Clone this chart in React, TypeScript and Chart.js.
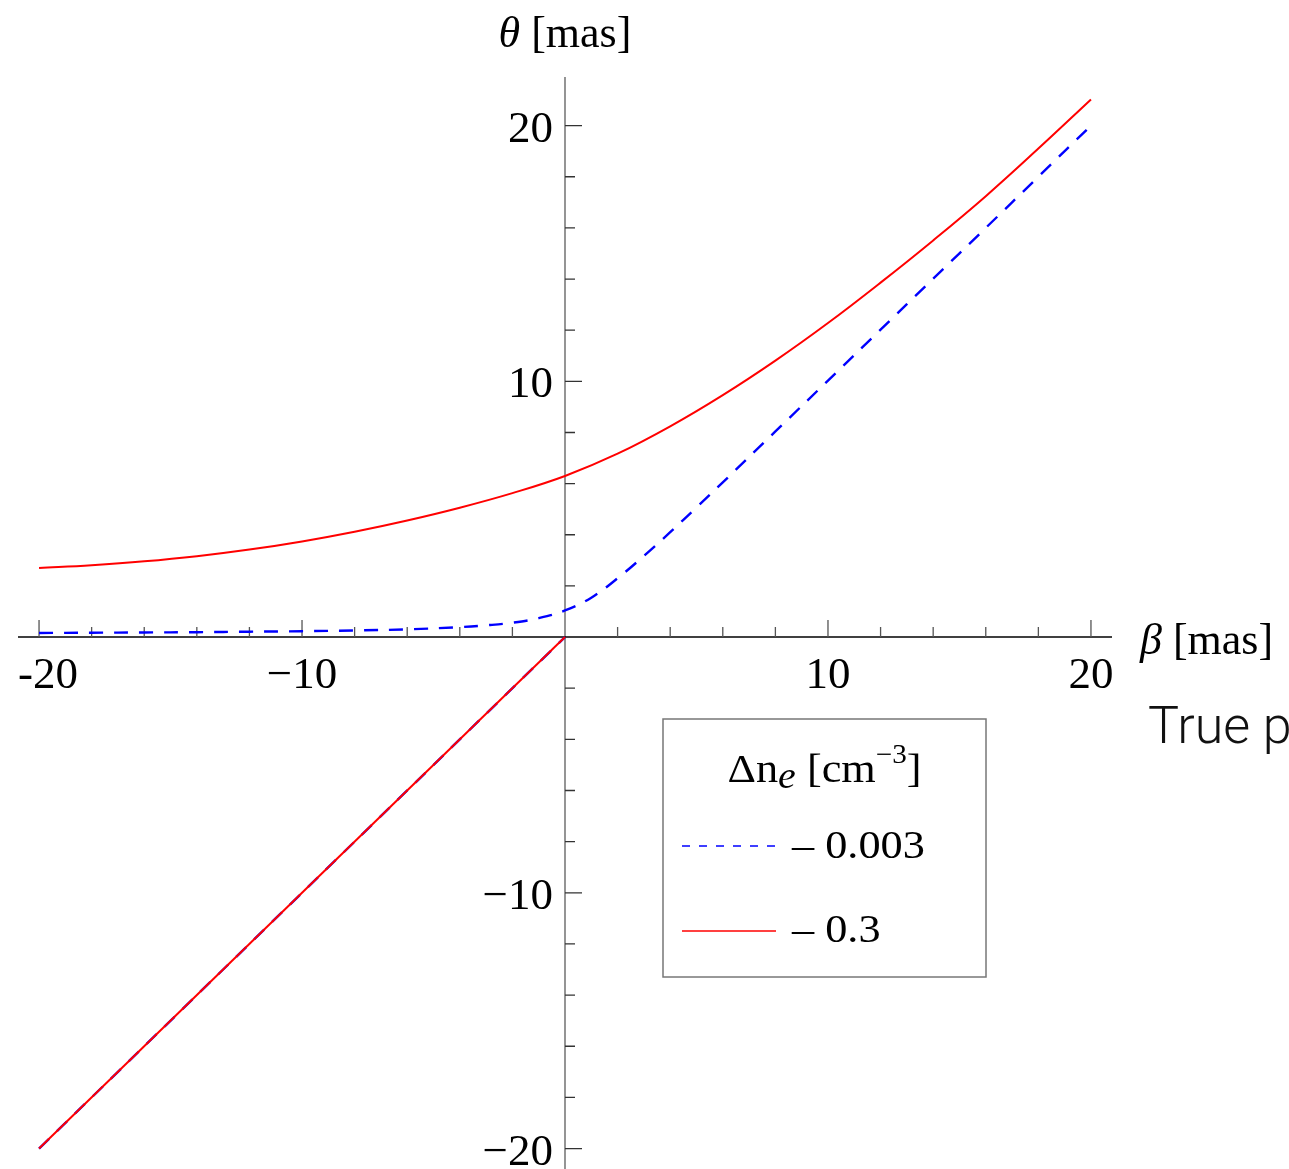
import { useEffect, useRef } from "react";
import { Chart, registerables } from "chart.js";

Chart.register(...registerables);

const W = 1289;
const H = 1169;

// Image position θ against true position β (both in mas)
const betaStrong = [-20, -18, -16, -14, -12, -10, -8, -6, -4, -2, 0, 2, 4, 6, 8, 10, 12, 14, 16, 18, 20];
const thetaStrong = [2.7, 2.81, 2.96, 3.16, 3.42, 3.74, 4.12, 4.56, 5.06, 5.63, 6.3, 7.17, 8.24, 9.46, 10.81, 12.28, 13.86, 15.51, 17.24, 19.1, 21.02];

const betaWeak = [-20, -18, -16, -14, -12, -10, -8, -6, -4, -3, -2, -1, 0, 1, 2, 3, 4, 5, 6, 8, 10, 12, 14, 16, 18, 20];
const thetaWeak = [0.16, 0.17, 0.18, 0.19, 0.21, 0.23, 0.26, 0.3, 0.39, 0.46, 0.56, 0.74, 1.04, 1.54, 2.3, 3.17, 4.1, 5.07, 6.05, 8.04, 10.03, 12.02, 14.01, 16.0, 18.0, 20.0];

// second image branch (identical for both densities)
const betaLower = [-20, 0];
const thetaLower = [-20, 0];

const seriesNames = ["– 0.003", "– 0.3"];
const legendTitle = "Δn_e [cm^-3]";

const xMajorTicks = [-20, -10, 10, 20];
const xMajorLabels = ["-20", "−10", "10", "20"];
const xMinorTicks = [-18, -16, -14, -12, -8, -6, -4, -2, 2, 4, 6, 8, 12, 14, 16, 18];
const yMajorTicks = [20, 10, -10, -20];
const yMajorLabels = ["20", "10", "−10", "−20"];
const yMinorTicks = [18, 16, 14, 12, 8, 6, 4, 2, -2, -4, -6, -8, -12, -14, -16, -18];

const RED = "#ff0000";
const BLUE = "#0000ff";
const SERIF = '"Liberation Serif", "Times New Roman", serif';

const pts = (xs: number[], ys: number[]) => xs.map((v, i) => ({ x: v, y: ys[i] }));

const axesPlugin = {
  id: "crossAxes",
  beforeDatasetsDraw(chart: any) {
    const { ctx, scales } = chart;
    const xs = scales.x;
    const ys = scales.y;
    const x0 = xs.getPixelForValue(0);
    const y0 = ys.getPixelForValue(0);
    ctx.save();
    // vertical axis
    ctx.strokeStyle = "#7a7a7a";
    ctx.lineWidth = 1.6;
    ctx.beginPath();
    ctx.moveTo(x0, ys.top);
    ctx.lineTo(x0, ys.bottom);
    ctx.stroke();
    // horizontal axis
    ctx.strokeStyle = "#000";
    ctx.lineWidth = 1.4;
    ctx.beginPath();
    ctx.moveTo(xs.left, y0);
    ctx.lineTo(xs.right, y0);
    ctx.stroke();

    // tick marks point into the upper / right side
    ctx.strokeStyle = "#555";
    ctx.lineWidth = 1.3;
    ctx.beginPath();
    xMajorTicks.forEach((v) => {
      const p = xs.getPixelForValue(v);
      ctx.moveTo(p, y0);
      ctx.lineTo(p, y0 - 17);
    });
    xMinorTicks.forEach((v) => {
      const p = xs.getPixelForValue(v);
      ctx.moveTo(p, y0);
      ctx.lineTo(p, y0 - 10);
    });
    ctx.stroke();
    ctx.strokeStyle = "#333";
    ctx.beginPath();
    yMajorTicks.forEach((v) => {
      const p = ys.getPixelForValue(v);
      ctx.moveTo(x0, p);
      ctx.lineTo(x0 + 17, p);
    });
    yMinorTicks.forEach((v) => {
      const p = ys.getPixelForValue(v);
      ctx.moveTo(x0, p);
      ctx.lineTo(x0 + 10, p);
    });
    ctx.stroke();
    ctx.restore();
  },
  afterDraw(chart: any) {
    const { ctx, scales } = chart;
    const xs = scales.x;
    const ys = scales.y;
    const x0 = xs.getPixelForValue(0);
    const y0 = ys.getPixelForValue(0);
    ctx.save();
    ctx.fillStyle = "#000";
    ctx.textBaseline = "alphabetic";

    // tick labels
    ctx.font = `45px ${SERIF}`;
    ctx.textAlign = "left";
    xMajorTicks.forEach((v, i) => {
      const p = xs.getPixelForValue(v);
      const w = ctx.measureText(xMajorLabels[i]).width;
      const left = Math.max(p - w / 2, xs.left);
      ctx.fillText(xMajorLabels[i], left, y0 + 51);
    });
    ctx.textAlign = "right";
    yMajorTicks.forEach((v, i) => {
      const p = ys.getPixelForValue(v);
      ctx.fillText(yMajorLabels[i], x0 - 12, p + 16);
    });

    // axis titles
    const drawRuns = (runs: [string, string][], x: number, y: number, center: boolean) => {
      let total = 0;
      runs.forEach(([t, f]) => {
        ctx.font = f;
        total += ctx.measureText(t).width;
      });
      let cx = center ? x - total / 2 : x;
      ctx.textAlign = "left";
      runs.forEach(([t, f]) => {
        ctx.font = f;
        ctx.fillText(t, cx, y);
        cx += ctx.measureText(t).width;
      });
    };
    drawRuns(
      [
        ["θ", `italic 44px ${SERIF}`],
        [" [mas]", `44px ${SERIF}`],
      ],
      x0,
      47,
      true
    );
    drawRuns(
      [
        ["β", `italic 44px ${SERIF}`],
        [" [mas]", `44px ${SERIF}`],
      ],
      xs.right + 28,
      654,
      false
    );

    // legend
    const bx = 663;
    const by = 719;
    const bw = 323;
    const bh = 258;
    ctx.fillStyle = "#fff";
    ctx.fillRect(bx, by, bw, bh);
    ctx.strokeStyle = "#777";
    ctx.lineWidth = 1.5;
    ctx.strokeRect(bx, by, bw, bh);

    const stretch = 1.08;
    const fs = 41;
    ctx.fillStyle = "#000";
    // title: Δn_e [cm^-3]
    const [main, rest] = legendTitle.split("_");
    const sub = rest.charAt(0);
    const afterSub = rest.slice(1).split("^");
    const parts: { t: string; f: string; dy: number }[] = [
      { t: main, f: `${fs}px ${SERIF}`, dy: 0 },
      { t: sub, f: `italic ${Math.round(fs * 0.9)}px ${SERIF}`, dy: 6 },
      { t: afterSub[0], f: `${fs}px ${SERIF}`, dy: 0 },
      { t: "−" + afterSub[1].replace("-", "").replace("]", ""), f: `${Math.round(fs * 0.66)}px ${SERIF}`, dy: -19 },
      { t: "]", f: `${fs}px ${SERIF}`, dy: 0 },
    ];
    let tw = 0;
    parts.forEach((p) => {
      ctx.font = p.f;
      tw += ctx.measureText(p.t).width;
    });
    ctx.save();
    ctx.translate(bx + bw / 2 - (tw * stretch) / 2, 782);
    ctx.scale(stretch, 1);
    let cx = 0;
    ctx.textAlign = "left";
    parts.forEach((p) => {
      ctx.font = p.f;
      ctx.fillText(p.t, cx, p.dy);
      cx += ctx.measureText(p.t).width;
    });
    ctx.restore();

    const entries = [
      { color: BLUE, dash: [8, 9], lineY: 846, textY: 858 },
      { color: RED, dash: [] as number[], lineY: 931, textY: 942 },
    ];
    entries.forEach((e, i) => {
      ctx.strokeStyle = e.color;
      ctx.lineWidth = 1.5;
      ctx.setLineDash(e.dash);
      ctx.beginPath();
      ctx.moveTo(682, e.lineY);
      ctx.lineTo(776, e.lineY);
      ctx.stroke();
      ctx.setLineDash([]);
      ctx.save();
      ctx.translate(792, e.textY);
      ctx.scale(stretch, 1);
      ctx.font = `${fs}px ${SERIF}`;
      ctx.fillStyle = "#000";
      ctx.fillText(seriesNames[i], 0, 0);
      ctx.restore();
    });

    // caption fragment at right edge
    ctx.font = '300 52px Roboto, "Liberation Sans", sans-serif';
    ctx.fillStyle = "#111";
    ctx.textAlign = "left";
    ctx.fillText("True position", 1148, 743);
    ctx.restore();
  },
};

export default function App() {
  const ref = useRef<HTMLCanvasElement>(null);
  useEffect(() => {
    if (!ref.current) return;
    const chart = new Chart(ref.current, {
      type: "scatter",
      data: {
        datasets: [
          {
            label: "0.3 upper",
            data: pts(betaStrong, thetaStrong),
            borderColor: RED,
            borderWidth: 2,
            showLine: true,
            pointRadius: 0,
            tension: 0.4,
          },
          {
            label: "0.3 lower",
            data: pts(betaLower, thetaLower),
            borderColor: RED,
            borderWidth: 2,
            showLine: true,
            pointRadius: 0,
          },
          {
            label: "0.003 upper",
            data: pts(betaWeak, thetaWeak),
            borderColor: BLUE,
            borderWidth: 2.4,
            borderDash: [14, 11],
            showLine: true,
            pointRadius: 0,
            tension: 0.4,
          },
          {
            label: "0.003 lower",
            data: pts(betaLower, thetaLower),
            borderColor: BLUE,
            borderWidth: 2.4,
            borderDash: [14, 11],
            showLine: true,
            pointRadius: 0,
          },
        ],
      },
      options: {
        animation: false,
        responsive: false,
        devicePixelRatio: 1,
        layout: { padding: { left: 18, right: 177, top: 77, bottom: 0 } },
        plugins: { legend: { display: false }, tooltip: { enabled: false } },
        scales: {
          x: { type: "linear", min: -20.8, max: 20.8, display: false },
          y: { type: "linear", min: -20.8, max: 21.9, display: false },
        },
      },
      plugins: [axesPlugin],
    } as any);
    return () => chart.destroy();
  }, []);
  return (
    <div style={{ position: "fixed", left: 0, top: 0, width: W, height: H, background: "#fff", overflow: "hidden" }}>
      <canvas ref={ref} width={W} height={H} style={{ display: "block", width: W, height: H }} />
    </div>
  );
}
